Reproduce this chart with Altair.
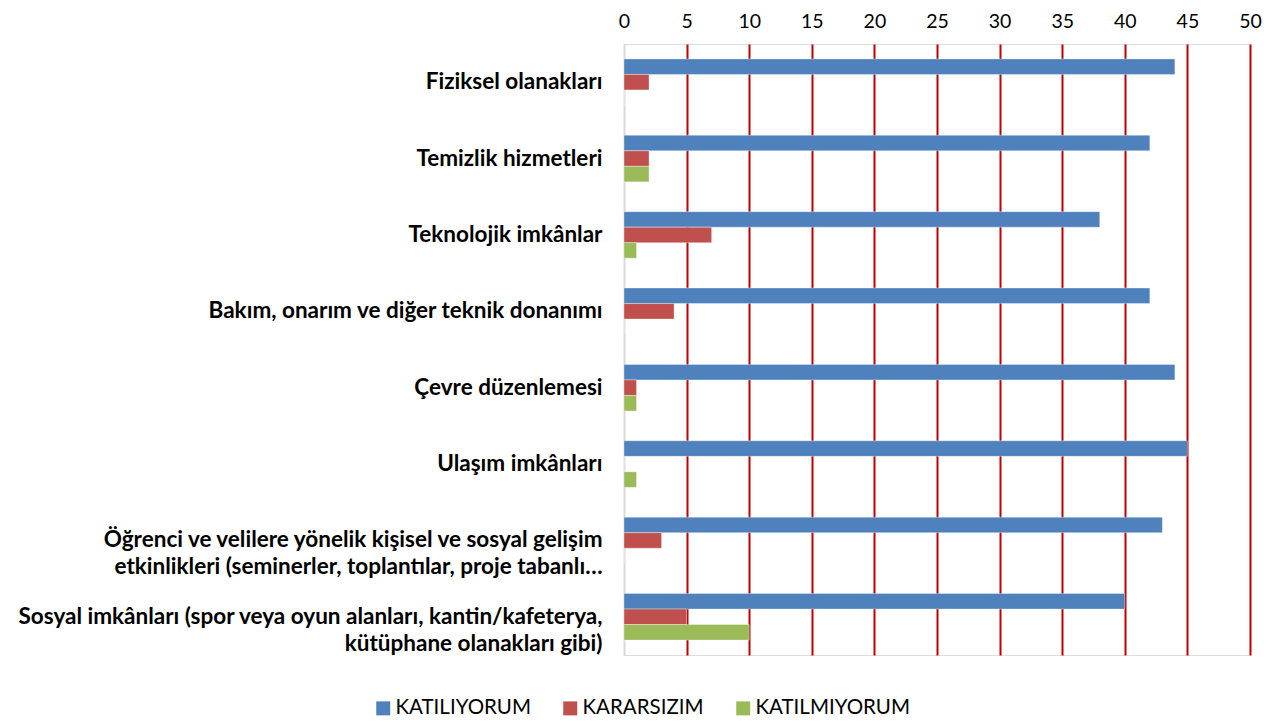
import altair as alt
import pandas as pd

categories = [
    "Fiziksel olanakları",
    "Temizlik hizmetleri",
    "Teknolojik imkânlar",
    "Bakım, onarım ve diğer teknik donanımı",
    "Çevre düzenlemesi",
    "Ulaşım imkânları",
    "Öğrenci ve velilere yönelik kişisel ve sosyal gelişim\netkinlikleri (seminerler, toplantılar, proje tabanlı…",
    "Sosyal imkânları (spor veya oyun alanları, kantin/kafeterya,\nkütüphane olanakları gibi)",
]
series = ["KATILIYORUM", "KARARSIZIM", "KATILMIYORUM"]
katiliyorum = [44, 42, 38, 42, 44, 45, 43, 40]
kararsizim = [2, 2, 7, 4, 1, 0, 3, 5]
katilmiyorum = [0, 2, 1, 0, 1, 1, 0, 10]
colors = ["#4F81BD", "#C0504D", "#9BBB59"]
x_ticks = list(range(0, 51, 5))

rows = []
for name, vals in zip(series, [katiliyorum, kararsizim, katilmiyorum]):
    for c, v in zip(categories, vals):
        rows.append({"category": c, "series": name, "value": v})
df = pd.DataFrame(rows)

FONT = "Lato"

chart = alt.Chart(df).mark_bar(
    stroke="white", strokeOpacity=0.35, strokeWidth=1
).encode(
    y=alt.Y(
        "category:N",
        sort=categories,
        title=None,
        scale=alt.Scale(paddingInner=0.39, paddingOuter=0.195),
        axis=alt.Axis(
            labelExpr="split(datum.label, '\\n')",
            labelFont=FONT,
            labelFontWeight="bold",
            labelFontSize=22.5,
            labelColor="#000000",
            labelLimit=700,
            labelPadding=22,
            labelLineHeight=27,
            ticks=False,
            domain=False,
            grid=False,
        ),
    ),
    yOffset=alt.YOffset("series:N", sort=series, scale=alt.Scale(paddingInner=0, paddingOuter=0)),
    x=alt.X(
        "value:Q",
        title=None,
        scale=alt.Scale(domain=[0, 50], nice=False),
        axis=alt.Axis(
            orient="top",
            values=x_ticks,
            labelFont=FONT,
            labelFontSize=19.5,
            labelColor="#000000",
            labelPadding=13,
            labelFlush=False,
            ticks=False,
            domain=False,
            grid=True,
            gridColor={"condition": {"test": "datum.value === 0", "value": "#D9D9D9"}, "value": "#C00000"},
            gridWidth=2,
            gridOpacity=1,
        ),
    ),
    color=alt.Color(
        "series:N",
        sort=series,
        scale=alt.Scale(domain=series, range=colors),
        legend=alt.Legend(
            title=None,
            orient="none",
            direction="horizontal",
            legendX=-251,
            legendY=654,
            symbolType="square",
            symbolSize=196,
            symbolStrokeWidth=0,
            labelFont=FONT,
            labelFontSize=20.5,
            labelColor="#000000",
            columnPadding=29,
            labelOffset=2,
            padding=0,
        ),
    ),
).properties(
    width=626,
    height=611,
    padding={"left": 616, "top": 36, "right": 14, "bottom": 70},
    autosize=alt.AutoSizeParams(type="none"),
).configure_view(stroke=None).configure(background="white")

chart.save("out.html", embed_options={"renderer": "svg", "actions": False})
